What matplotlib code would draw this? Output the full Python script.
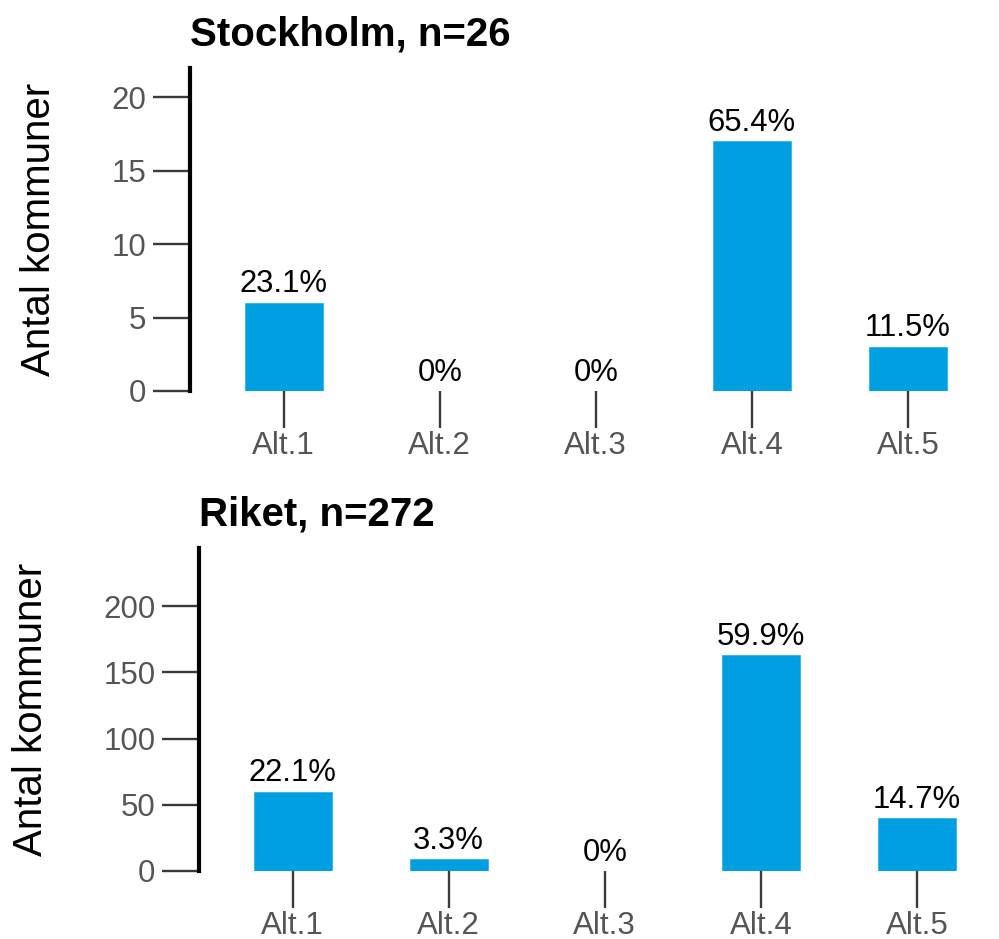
import matplotlib
matplotlib.use("Agg")
import matplotlib.pyplot as plt
import numpy as np

plt.rcParams.update({
    'font.family': ['Liberation Sans', 'DejaVu Sans'],
    'font.size': 22,
})

# Data
categories = ["Alt.1", "Alt.2", "Alt.3", "Alt.4", "Alt.5"]
sthlm_counts = [6, 0, 0, 17, 3]
riket_counts = [60, 9, 0, 163, 40]
sthlm_n = 26
riket_n = 272
sthlm_ticks = [0, 5, 10, 15, 20]
riket_ticks = [0, 50, 100, 150, 200]

BAR_COLOR = "#009fe1"
TICK_COLOR = "#3a3a3a"
LABEL_COLOR = "#555555"


def pct_label(c, n):
    p = c / n * 100
    return "0%" if c == 0 else f"{p:.1f}%"


def draw_panel(ax, counts, n, title, yticks, ylim, label_x):
    x = np.arange(len(categories))
    bars = ax.bar(x, counts, width=0.5, color=BAR_COLOR, edgecolor="#33b2e8", linewidth=0.6)
    ax.bar_label(bars, labels=[pct_label(c, n) for c in counts], padding=2.5,
                 fontsize=22.3, color="black")
    ax.set_xlim(-0.6, 4.5)
    ax.set_ylim(0, ylim)
    ax.set_xticks(x)
    ax.set_xticklabels(categories)
    ax.set_yticks(yticks)
    for s in ["top", "right", "bottom"]:
        ax.spines[s].set_visible(False)
    ax.spines["left"].set_linewidth(3)
    ax.spines["left"].set_color("black")
    ax.tick_params(axis="x", length=26.5, width=1.7, color=TICK_COLOR,
                   labelcolor=LABEL_COLOR, labelsize=22.5, pad=2)
    ax.tick_params(axis="y", length=26.5, width=1.7, color=TICK_COLOR,
                   labelcolor=LABEL_COLOR, labelsize=22.5, pad=5)
    ax.set_title(title, loc="left", fontsize=29, fontweight="bold", pad=16)
    ax.set_ylabel("Antal kommuner", fontsize=29)
    ax.yaxis.set_label_coords(label_x, 0.5)


fig = plt.figure(figsize=(9.99, 9.39), dpi=100)
ax1 = fig.add_axes([190 / 999, 548 / 939, 796 / 999, 323 / 939])
ax2 = fig.add_axes([199 / 999, 68 / 939, 796 / 999, 323 / 939])

draw_panel(ax1, sthlm_counts, sthlm_n, f"Stockholm, n={sthlm_n}", sthlm_ticks, 22, -0.166)
draw_panel(ax2, riket_counts, riket_n, f"Riket, n={riket_n}", riket_ticks, 244, -0.187)

fig.savefig("out.png", dpi=100)
